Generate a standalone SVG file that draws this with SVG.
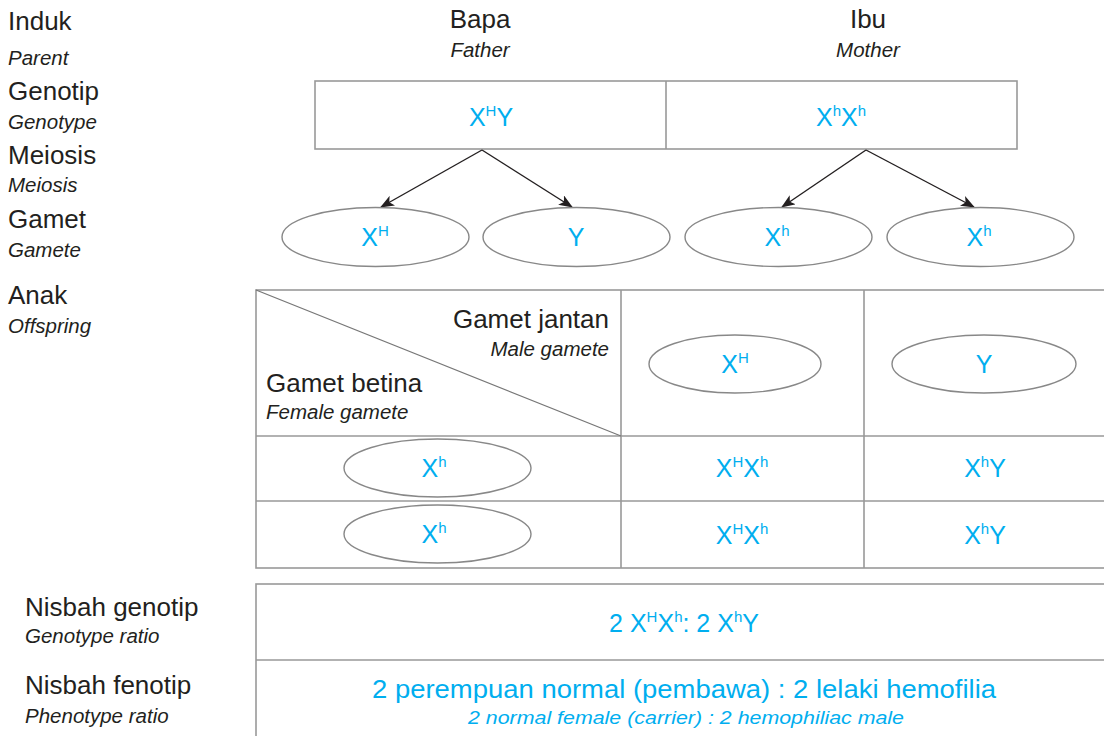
<svg xmlns="http://www.w3.org/2000/svg" width="1104" height="736" viewBox="0 0 1104 736">
<style>
.lab{font-family:"Liberation Sans",Arial,sans-serif;font-size:26px;fill:#231F20}
.it{font-family:"Liberation Sans",Arial,sans-serif;font-size:20.5px;font-style:italic;fill:#231F20}
.g{font-family:"Liberation Sans",Arial,sans-serif;font-size:25px;fill:#00AEEF;text-anchor:middle}
.sup{font-size:15px}
.box{fill:none;stroke:#999;stroke-width:1.6}
.ell{fill:#fff;stroke:#888;stroke-width:1.4}
.con{stroke:#231F20;stroke-width:1.4;fill:none;marker-end:url(#ah)}
</style>
<defs>
<marker id="ah" markerWidth="14" markerHeight="11" refX="13" refY="5.5" orient="auto" markerUnits="userSpaceOnUse">
<path d="M0,0 L14,5.5 L0,11 L3.5,5.5 Z" fill="#231F20"/>
</marker>
</defs>
<rect width="1104" height="736" fill="#fff"/>
<g id="left-labels">
<text class="lab" x="8" y="30">Induk</text>
<text class="it" x="8" y="65">Parent</text>
<text class="lab" x="8" y="100">Genotip</text>
<text class="it" x="8" y="129">Genotype</text>
<text class="lab" x="8" y="164">Meiosis</text>
<text class="it" x="8" y="192">Meiosis</text>
<text class="lab" x="8" y="228">Gamet</text>
<text class="it" x="8" y="257">Gamete</text>
<text class="lab" x="8" y="304">Anak</text>
<text class="it" x="8" y="333">Offspring</text>
<text class="lab" x="25" y="616">Nisbah genotip</text>
<text class="it" x="25" y="643">Genotype ratio</text>
<text class="lab" x="25" y="694">Nisbah fenotip</text>
<text class="it" x="25" y="723">Phenotype ratio</text>
</g>
<g id="parent-headers">
<text class="lab" x="480" y="28" text-anchor="middle">Bapa</text>
<text class="it" x="480" y="57" text-anchor="middle">Father</text>
<text class="lab" x="868" y="28" text-anchor="middle">Ibu</text>
<text class="it" x="868" y="57" text-anchor="middle">Mother</text>
</g>
<g id="genotype-box">
<rect class="box" x="315" y="81" width="702" height="68"/>
<line class="box" x1="666" y1="81" x2="666" y2="149"/>
<text class="g" x="491" y="126">X<tspan class="sup" dy="-10">H</tspan><tspan dy="10">Y</tspan></text>
<text class="g" x="841" y="126">X<tspan class="sup" dy="-10">h</tspan><tspan dy="10">X</tspan><tspan class="sup" dy="-10">h</tspan></text>
</g>
<g id="connectors">
<line class="con" x1="482" y1="150" x2="381" y2="207"/>
<line class="con" x1="482" y1="150" x2="572" y2="207"/>
<line class="con" x1="866" y1="150" x2="782" y2="207"/>
<line class="con" x1="866" y1="150" x2="974" y2="207"/>
</g>
<g id="gamete-f1"><ellipse class="ell" cx="375.5" cy="237" rx="93.5" ry="29.5"/><text class="g" x="375" y="246">X<tspan class="sup" dy="-10">H</tspan></text></g>
<g id="gamete-f2"><ellipse class="ell" cx="576.5" cy="237" rx="93.5" ry="29.5"/><text class="g" x="576" y="246">Y</text></g>
<g id="gamete-m1"><ellipse class="ell" cx="778.5" cy="237" rx="93.5" ry="29.5"/><text class="g" x="777" y="246">X<tspan class="sup" dy="-10">h</tspan></text></g>
<g id="gamete-m2"><ellipse class="ell" cx="980.5" cy="237" rx="93.5" ry="29.5"/><text class="g" x="979" y="246">X<tspan class="sup" dy="-10">h</tspan></text></g>
<g id="punnett">
<rect class="box" x="256" y="290" width="860" height="278"/>
<line class="box" x1="621" y1="290" x2="621" y2="568"/>
<line class="box" x1="864" y1="290" x2="864" y2="568"/>
<line class="box" x1="256" y1="436" x2="1110" y2="436"/>
<line class="box" x1="256" y1="501" x2="1110" y2="501"/>
<line x1="256" y1="290" x2="621" y2="436" stroke="#777" stroke-width="1.2"/>
<text class="lab" x="609" y="328" text-anchor="end">Gamet jantan</text>
<text class="it" x="609" y="356" text-anchor="end">Male gamete</text>
<text class="lab" x="266" y="392">Gamet betina</text>
<text class="it" x="266" y="419">Female gamete</text>
</g>
<g id="male-gamete-1"><ellipse class="ell" cx="735" cy="364" rx="86" ry="29"/><text class="g" x="735" y="373">X<tspan class="sup" dy="-10">H</tspan></text></g>
<g id="male-gamete-2"><ellipse class="ell" cx="984" cy="364" rx="92" ry="29"/><text class="g" x="984" y="373">Y</text></g>
<g id="female-gamete-1"><ellipse class="ell" cx="437.5" cy="468" rx="93.5" ry="29"/><text class="g" x="434" y="477">X<tspan class="sup" dy="-10">h</tspan></text></g>
<g id="female-gamete-2"><ellipse class="ell" cx="437.5" cy="534" rx="93.5" ry="29"/><text class="g" x="434" y="543">X<tspan class="sup" dy="-10">h</tspan></text></g>
<g id="offspring">
<text class="g" x="742" y="477">X<tspan class="sup" dy="-10">H</tspan><tspan dy="10">X</tspan><tspan class="sup" dy="-10">h</tspan></text>
<text class="g" x="985" y="477">X<tspan class="sup" dy="-10">h</tspan><tspan dy="10">Y</tspan></text>
<text class="g" x="742" y="544">X<tspan class="sup" dy="-10">H</tspan><tspan dy="10">X</tspan><tspan class="sup" dy="-10">h</tspan></text>
<text class="g" x="985" y="544">X<tspan class="sup" dy="-10">h</tspan><tspan dy="10">Y</tspan></text>
</g>
<g id="ratios">
<rect class="box" x="256" y="584" width="860" height="160"/>
<line class="box" x1="256" y1="660" x2="1110" y2="660"/>
<text class="g" x="684" y="632">2 X<tspan class="sup" dy="-10">H</tspan><tspan dy="10">X</tspan><tspan class="sup" dy="-10">h</tspan><tspan dy="10">: 2 X</tspan><tspan class="sup" dy="-10">h</tspan><tspan dy="10">Y</tspan></text>
<text class="g" x="684" y="698" style="font-size:26px" textLength="624" lengthAdjust="spacingAndGlyphs">2 perempuan normal (pembawa) : 2 lelaki hemofilia</text>
<text class="g" x="686" y="724" style="font-size:19px;font-style:italic" textLength="436" lengthAdjust="spacingAndGlyphs">2 normal female (carrier) : 2 hemophiliac male</text>
</g>
</svg>
